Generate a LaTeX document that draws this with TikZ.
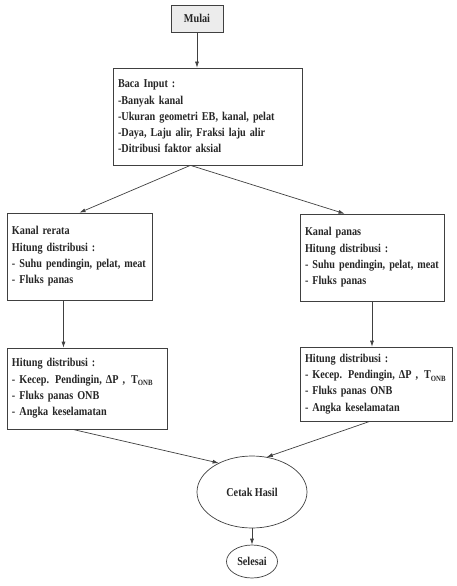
\documentclass[tikz,border=0pt]{standalone}
\usepackage{fontspec}
\setmainfont{Liberation Serif}[FakeStretch=0.85]
\usetikzlibrary{shapes.geometric,arrows.meta,calc}
\begin{document}
\begin{tikzpicture}[x=1pt,y=-1pt,
  every node/.style={font=\fontsize{12}{16.3}\selectfont\bfseries, text=black!85},
  box/.style={draw=black!75, line width=0.7pt, rectangle, inner xsep=5pt, inner ysep=0pt, align=left},
  oval/.style={draw=black!75, line width=0.7pt, ellipse, inner sep=0pt},
  arr/.style={draw=black!75, line width=0.7pt, -{Latex[length=6pt,width=4pt]}}]
\useasboundingbox (0,0) rectangle (456,586);
\fill[white] (0,0) rectangle (456,586);

\node[box, fill=gray!15, minimum width=52pt, minimum height=27pt, align=center] (mulai) at (197,18.5) {Mulai};
\node[box, minimum width=189pt, minimum height=97pt, text width=179pt] (baca) at (207.5,116.5)
 {Baca Input :\\-Banyak kanal\\-Ukuran geometri EB, kanal, pelat\\-Daya, Laju alir, Fraksi laju alir\\-Ditribusi faktor aksial};
\node[box, minimum width=143pt, minimum height=87pt, text width=135pt] (rerata) at (79.5,256.5)
 {Kanal rerata\\Hitung distribusi :\\- Suhu pendingin, pelat, meat\\- Fluks panas};
\node[box, minimum width=142pt, minimum height=87pt, text width=134pt] (panas) at (372,257.5)
 {Kanal panas\\Hitung distribusi :\\- Suhu pendingin, pelat, meat\\- Fluks panas};
\node[box, minimum width=160pt, minimum height=81pt, text width=150pt] (hitL) at (87,388.5)
 {Hitung distribusi :\\- Kecep. Pendingin, ΔP ,\, T\raisebox{-2.5pt}{\fontsize{8}{8}\selectfont ONB}\\- Fluks panas ONB\\- Angka keselamatan};
\node[box, minimum width=152pt, minimum height=74pt, text width=142pt] (hitR) at (376,384)
 {Hitung distribusi :\\- Kecep. Pendingin, ΔP ,\, T\raisebox{-2.5pt}{\fontsize{8}{8}\selectfont ONB}\\- Fluks panas ONB\\- Angka keselamatan};
\node[oval, minimum width=110pt, minimum height=72pt] (cetak) at (252,492) {Cetak Hasil};
\node[oval, minimum width=51pt, minimum height=33pt] (selesai) at (252,561.5) {Selesai};

\draw[arr] (mulai.south) -- (mulai.south |- baca.north);
\coordinate (bacaout) at ($(baca.south west)!0.41!(baca.south east)$);
\coordinate (panasin) at ($(panas.north west)!0.31!(panas.north east)$);
\coordinate (rerataout) at ($(rerata.south west)!0.39!(rerata.south east)$);
\coordinate (hitLout) at ($(hitL.south west)!0.41!(hitL.south east)$);
\coordinate (hitRout) at ($(hitR.south west)!0.46!(hitR.south east)$);
\draw[arr] (bacaout) -- (rerata.north);
\draw[arr] (bacaout) -- (panasin);
\draw[arr] (rerataout) -- (rerataout |- hitL.north);
\draw[arr] (panas.south) -- (panas.south |- hitR.north);
\draw[arr] (hitLout) -- (cetak.139);
\draw[arr] (hitRout) -- (cetak.67);
\draw[arr] (cetak.south) -- (selesai.north);
\end{tikzpicture}
\end{document}
